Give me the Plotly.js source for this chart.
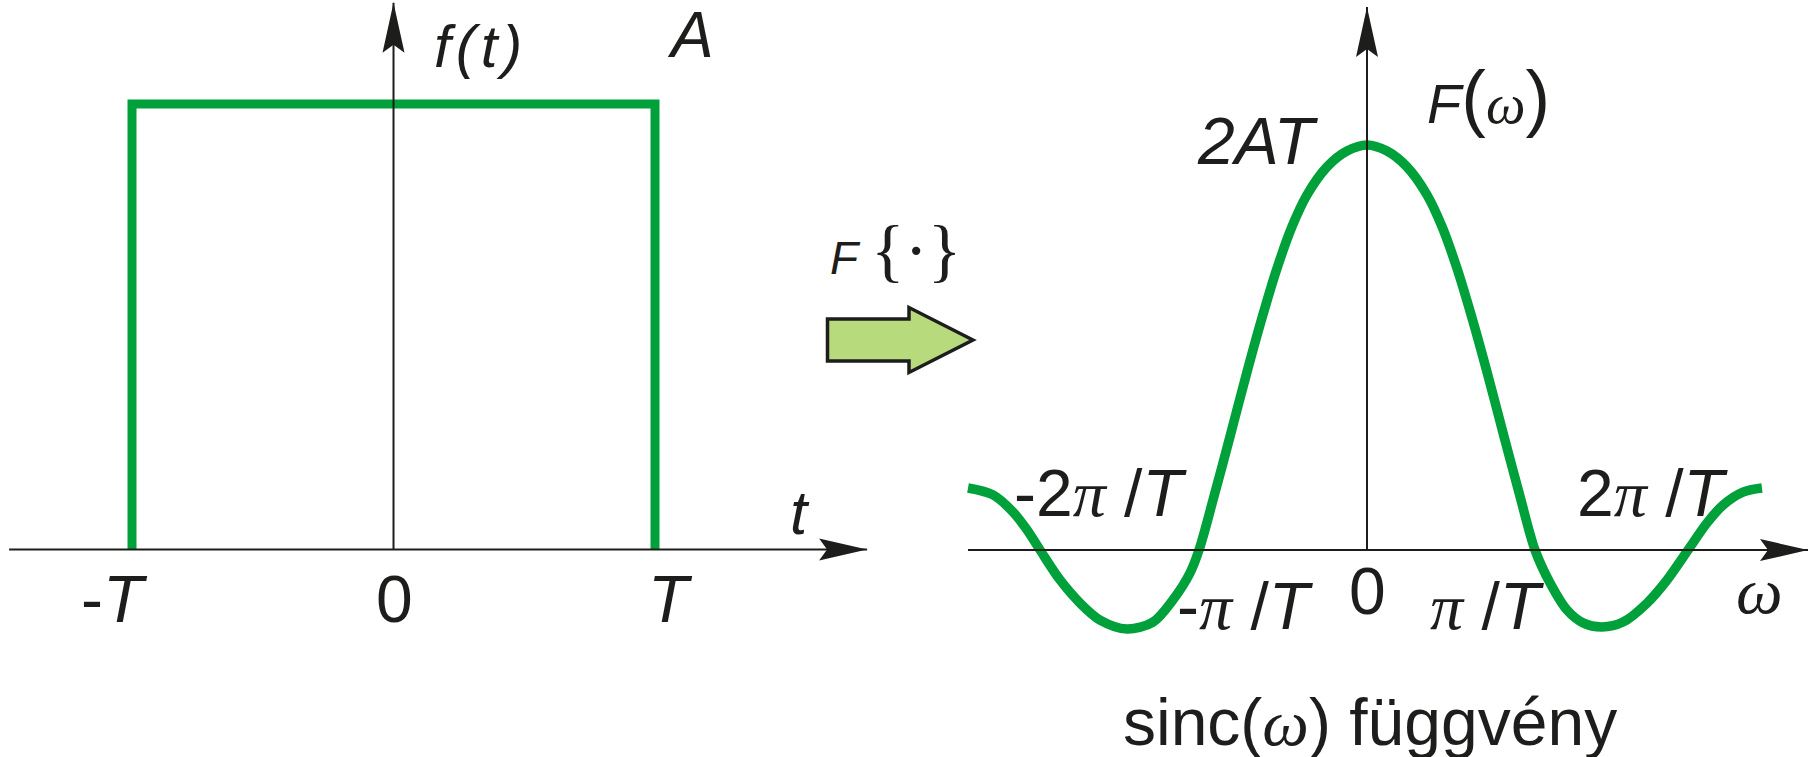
<!DOCTYPE html>
<html>
<head>
<meta charset="utf-8">
<script src="https://cdn.plot.ly/plotly-3.0.1.min.js"></script>
<style>
  html, body { margin: 0; padding: 0; background: #fff; }
  #plot { width: 1820px; height: 757px; }
</style>
</head>
<body>
<div id="plot"></div>
<script>
// f(t): rectangular pulse (t in units of T, f in units of A)
const pulseT = [-1, -1, 1, 1];
const pulseF = [0, 1, 1, 0];

// F(w) (w in units of pi/T, F in units of 2AT)
const omega = [-2.375, -2.226, -2.107, -2.024, -1.946, -1.827, -1.708, -1.589, -1.429, -1.274,
  -1.155, -1.054, -1.0, -0.911, -0.815, -0.714, -0.625, -0.536, -0.446, -0.357,
  -0.238, -0.119, 0, 0.119, 0.238, 0.357, 0.446, 0.536, 0.625, 0.714,
  0.815, 0.911, 1.0, 1.089, 1.190, 1.286, 1.399, 1.524, 1.667, 1.786,
  1.911, 2.024, 2.119, 2.238, 2.351];
const spectrum = [0.153, 0.136, 0.094, 0.050, 0, -0.074, -0.131, -0.173, -0.195, -0.178,
  -0.123, -0.057, 0, 0.132, 0.281, 0.440, 0.573, 0.695, 0.799, 0.877,
  0.946, 0.985, 1.0, 0.985, 0.946, 0.877, 0.799, 0.695, 0.573, 0.440,
  0.281, 0.132, 0, -0.081, -0.148, -0.180, -0.190, -0.178, -0.131, -0.074,
  0, 0.067, 0.111, 0.143, 0.153];

// tick labels
const serifI = ch => '<span style="font-family:\'Liberation Serif\'"><i>' + ch + '</i></span>';
const PI = serifI('π');
const OMEGA = serifI('ω');
const tTicks = [-1, 0, 1];
const tLabels = ['-<i>T</i>', '0', '<i>T</i>'];
const wTicks = [-2, -1, 0, 1, 2];
const wLabels = ['-2' + PI + ' /<i>T</i>', '-' + PI + ' /<i>T</i>', '0', PI + ' /<i>T</i>', '2' + PI + ' /<i>T</i>'];

// label offsets in px from the tick position
const tShift = [[-18, -50], [1, -50], [15, -50]];
const wShift = [[69, 57], [46, -56], [0, -41], [-48, -56], [-51, 57]];

const green = '#00a13a';
const ink = '#1d1d1b';
const sans = 'Liberation Sans, Arial, sans-serif';

function txt(xref, yref, x, y, text, size, extra) {
  return Object.assign({
    xref: xref, yref: yref, x: x, y: y, text: text, showarrow: false,
    xanchor: 'center', yanchor: 'middle',
    font: { family: sans, size: size, color: ink }
  }, extra || {});
}

function axisLine(xref, yref, x0, y0, x1, y1) {
  return { type: 'line', xref: xref, yref: yref, x0: x0, y0: y0, x1: x1, y1: y1,
    line: { color: ink, width: 2 } };
}

// arrow head drawn in pixels, anchored at the axis tip
function head(xref, yref, x, y, dir) {
  const path = dir === 'right'
    ? 'M0,0 L-48,11 L-40,0 L-48,-11 Z'
    : 'M0,0 L-11,-50 L0,-42 L11,-50 Z';
  return { type: 'path', xref: xref, yref: yref, xsizemode: 'pixel', ysizemode: 'pixel',
    xanchor: x, yanchor: y, path: path, fillcolor: ink, line: { width: 0 } };
}

const traces = [
  { x: pulseT, y: pulseF, xaxis: 'x', yaxis: 'y', mode: 'lines',
    line: { color: green, width: 9 }, hoverinfo: 'skip' },
  { x: omega, y: spectrum, xaxis: 'x2', yaxis: 'y2', mode: 'lines',
    line: { color: green, width: 9.5, shape: 'spline', smoothing: 0.9 }, hoverinfo: 'skip' }
];

const annotations = [];
tTicks.forEach((v, i) => annotations.push(
  txt('x', 'y', v, 0, tLabels[i], 66, { xshift: tShift[i][0], yshift: tShift[i][1] })));
wTicks.forEach((v, i) => annotations.push(
  txt('x2', 'y2', v, 0, wLabels[i], 66, { xshift: wShift[i][0], yshift: wShift[i][1] })));

const big = s => '<span style="font-size:74px">' + s + '</span>';
const brace = s => '<span style="font-family:\'Liberation Serif\';font-size:70px">' + s + '</span>';

annotations.push(
  txt('x', 'y', 0.331, 1.130, '<span style="letter-spacing:5px"><i>f(t)</i></span>', 60),
  txt('x', 'y', 1.134, 1.155, '<i>A</i>', 64),
  txt('x', 'y', 1.554, 0.084, '<i>t</i>', 62),
  txt('x', 'y', 1.918, 0.672, '<i>F</i> ' + brace('{·}'), 46),
  txt('x2', 'y2', -0.646, 1.010, '<i>2AT</i>', 66),
  txt('x2', 'y2', 0.722, 1.117, '<i>F</i>' + big('(') + OMEGA + big(')'), 56),
  txt('x2', 'y2', 2.339, -0.099, OMEGA, 66),
  txt('x2', 'y2', 0.018, -0.425, 'sinc(' + OMEGA + ') függvény', 66)
);

const shapes = [
  axisLine('x', 'y', -1.470, 0, 1.811, 0),
  axisLine('x', 'y', 0, 0, 0, 1.227),
  axisLine('x2', 'y2', -2.375, 0, 2.625, 0),
  axisLine('x2', 'y2', 0, 0, 0, 1.341),
  head('x', 'y', 1.811, 0, 'right'),
  head('x', 'y', 0, 1.227, 'up'),
  head('x2', 'y2', 2.625, 0, 'right'),
  head('x2', 'y2', 0, 1.341, 'up'),
  // green "Fourier transform" block arrow between the panels
  { type: 'path', xref: 'paper', yref: 'paper', xsizemode: 'pixel', ysizemode: 'pixel',
    xanchor: 975 / 1820, yanchor: 1 - 340 / 757,
    path: 'M-2,0 L-66,32.5 L-66,21 L-147.5,21 L-147.5,-21 L-66,-21 L-66,-32.5 Z',
    fillcolor: '#b6da7c', line: { color: ink, width: 3.5 } }
];

const hidden = { visible: false, fixedrange: true };

const layout = {
  width: 1820, height: 757,
  margin: { l: 0, r: 0, t: 0, b: 0 },
  paper_bgcolor: '#ffffff', plot_bgcolor: 'rgba(0,0,0,0)',
  showlegend: false, hovermode: false,
  xaxis: Object.assign({ domain: [0, 0.5], range: [-1.5048, 1.9751] }, hidden),
  yaxis: Object.assign({ domain: [0, 1], range: [-0.4658, 1.2334] }, hidden),
  xaxis2: Object.assign({ domain: [0.5, 1], range: [-2.7202, 2.6964], anchor: 'y2' }, hidden),
  yaxis2: Object.assign({ domain: [0, 1], range: [-0.5111, 1.3580], anchor: 'x2' }, hidden),
  shapes: shapes,
  annotations: annotations
};

Plotly.newPlot('plot', traces, layout, { displayModeBar: false, staticPlot: true });
</script>
</body>
</html>
